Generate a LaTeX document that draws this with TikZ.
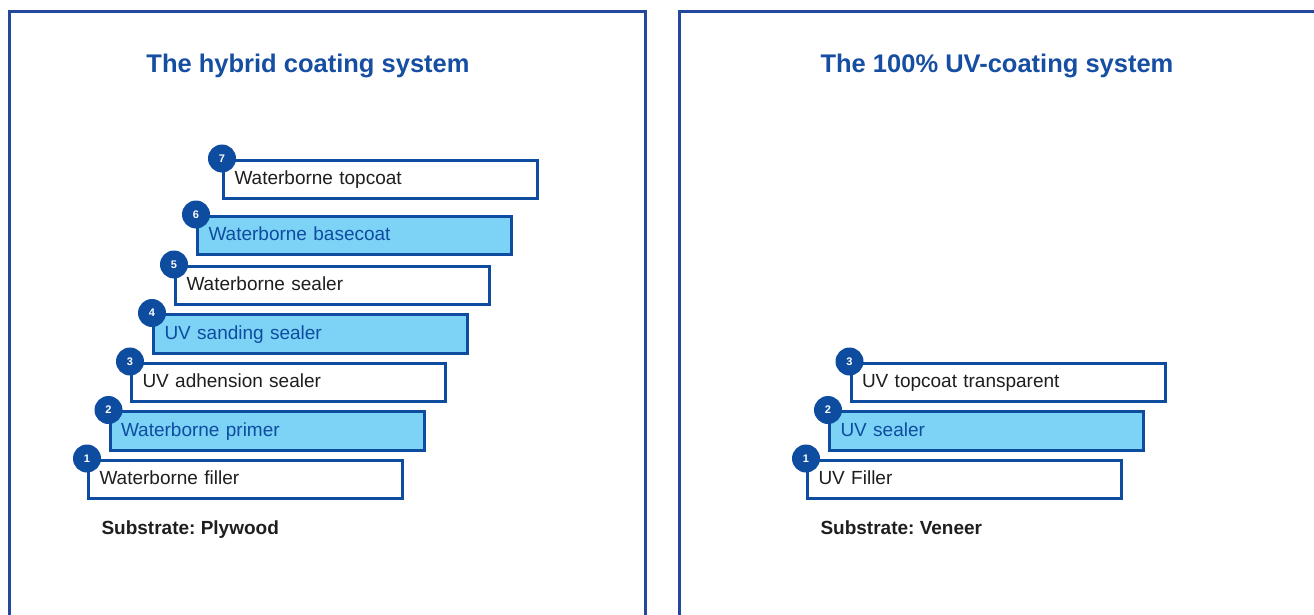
\documentclass[tikz,border=0pt]{standalone}
\usepackage{fontspec}
\setmainfont{Liberation Sans}
\frenchspacing
\definecolor{frameblue}{RGB}{35,72,158}
\definecolor{lineblue}{RGB}{14,76,160}
\definecolor{paleblue}{RGB}{125,211,245}
\definecolor{titleblue}{RGB}{22,78,162}
\definecolor{textgrey}{RGB}{30,30,30}
\begin{document}
\begin{tikzpicture}[x=1pt,y=-1pt,
    panel/.style={draw=frameblue,line width=3pt},
    layer/.style={draw=lineblue,line width=3pt,anchor=north west,
        minimum width=314pt,minimum height=38.5pt,text width=292pt,
        text height=15pt,text depth=4pt,
        inner xsep=11pt,align=left,font=\fontsize{19}{22}\selectfont},
    coat/.style={layer,fill=white,text=textgrey},
    uvcoat/.style={layer,fill=paleblue,text=lineblue},
    badge/.style={circle,fill=lineblue,text=white,minimum size=28pt,
        inner sep=0pt,font=\fontsize{11}{11}\selectfont\bfseries},
    heading/.style={anchor=base,text=titleblue,font=\fontsize{25.5}{28}\selectfont\bfseries},
    substrate/.style={anchor=base west,text=textgrey,font=\fontsize{19}{22}\selectfont\bfseries}]
    \useasboundingbox (0,0) rectangle (1314,615);
    % frames
    \draw [panel] (9.5,615) |- (645,12) -- (645,615);
    \draw [panel] (679,615) |- (1320,12);
    % hybrid system
    \node [heading] (hybridtitle) at (308,73) {The hybrid coating system};
    \node [coat]   (h1) at (87,458.5) {Waterborne filler};
    \node [uvcoat] (h2) at (108.5,410) {Waterborne primer};
    \node [coat]   (h3) at (130,361.5) {UV adhension sealer};
    \node [uvcoat] (h4) at (152,313) {UV sanding sealer};
    \node [coat]   (h5) at (174,264.5) {Waterborne sealer};
    \node [uvcoat] (h6) at (196,214.5) {Waterborne basecoat};
    \node [coat]   (h7) at (222,158.5) {Waterborne topcoat};
    \node [badge] (hb1) at (h1.north west) {1};
    \node [badge] (hb2) at (h2.north west) {2};
    \node [badge] (hb3) at (h3.north west) {3};
    \node [badge] (hb4) at (h4.north west) {4};
    \node [badge] (hb5) at (h5.north west) {5};
    \node [badge] (hb6) at (h6.north west) {6};
    \node [badge] (hb7) at (h7.north west) {7};
    \node [substrate] (hybridbase) at (98,534) {Substrate: Plywood};
    % UV system
    \node [heading] (uvtitle) at (997,73) {The 100\% UV-coating system};
    \node [coat]   (u1) at (806,458.5) {UV Filler};
    \node [uvcoat] (u2) at (828,410) {UV sealer};
    \node [coat]   (u3) at (849.5,361.5) {UV topcoat transparent};
    \node [badge] (ub1) at (u1.north west) {1};
    \node [badge] (ub2) at (u2.north west) {2};
    \node [badge] (ub3) at (u3.north west) {3};
    \node [substrate] (uvbase) at (817,534) {Substrate: Veneer};
\end{tikzpicture}
\end{document}
